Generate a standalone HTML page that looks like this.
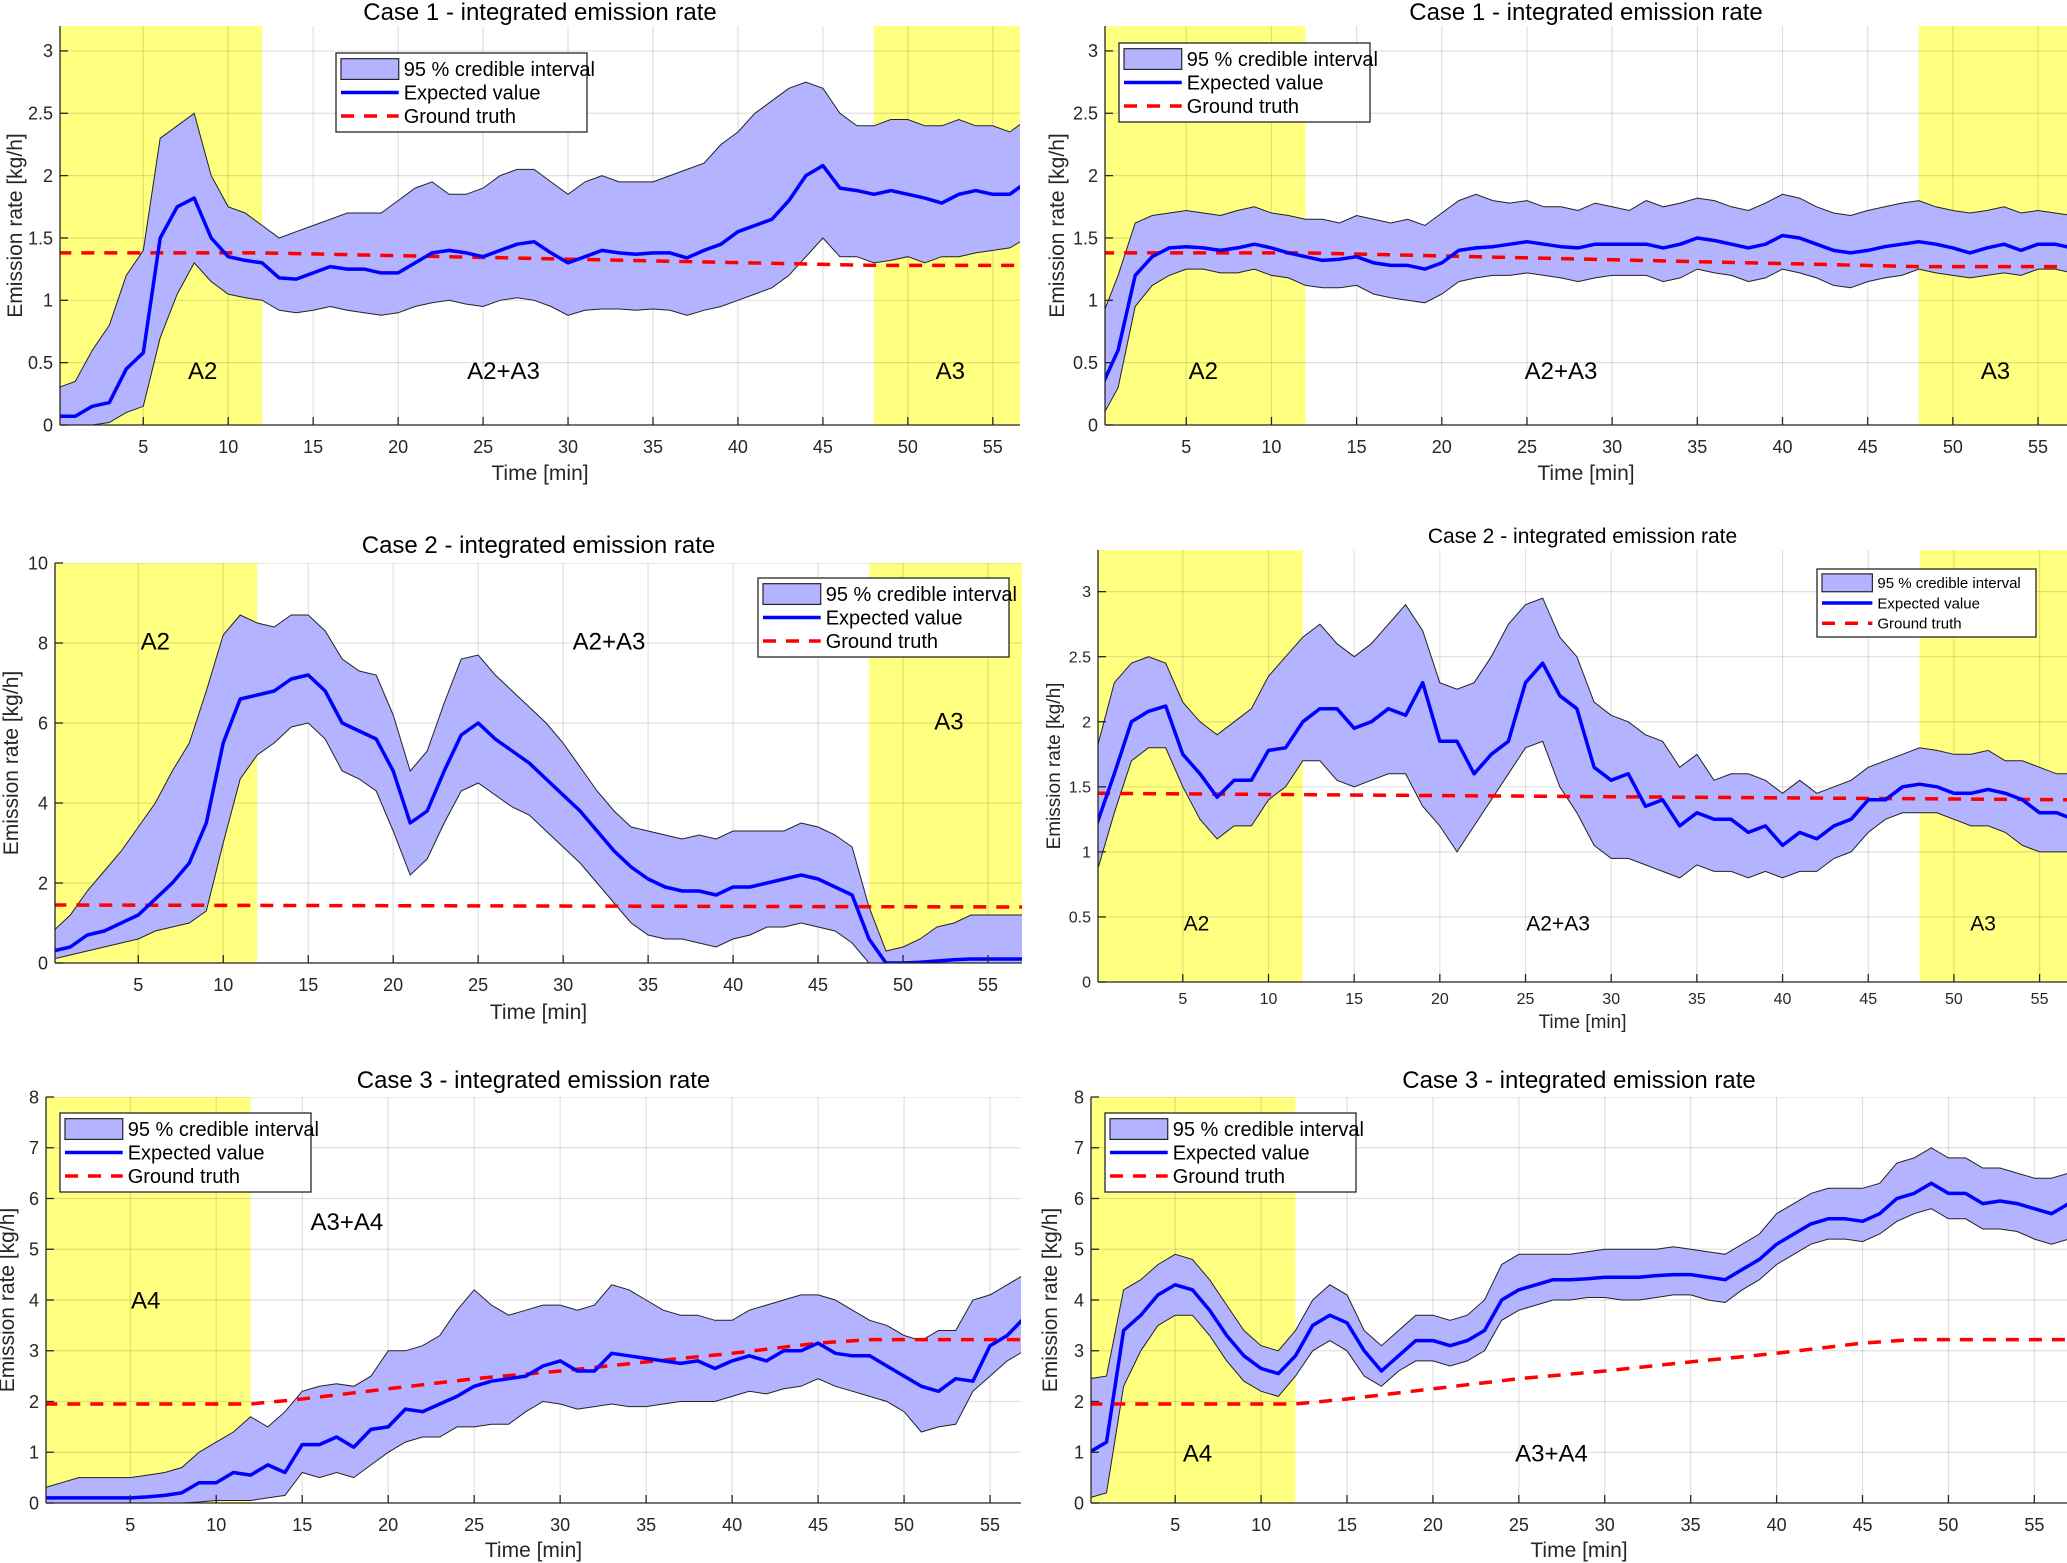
<!DOCTYPE html>
<html><head><meta charset="utf-8">
<style>
html,body{margin:0;padding:0;background:#fff;}
svg{display:block;font-family:"Liberation Sans",Arial,sans-serif;}
</style></head>
<body>
<svg id="fig" width="2067" height="1563" viewBox="0 0 2067 1563" xmlns="http://www.w3.org/2000/svg"></svg>
<script>
// ---------- shared categories ----------
const minutes = [0,1,2,3,4,5,6,7,8,9,10,11,12,13,14,15,16,17,18,19,20,21,22,23,24,25,26,27,28,29,30,31,32,33,34,35,36,37,38,39,40,41,42,43,44,45,46,47,48,49,50,51,52,53,54,55,56,57];
const xTicks = [5,10,15,20,25,30,35,40,45,50,55];

// ---------- Case 1 (left) ----------
const c1aMean = [0.07,0.07,0.15,0.18,0.45,0.58,1.5,1.75,1.82,1.5,1.35,1.32,1.3,1.18,1.17,1.22,1.27,1.25,1.25,1.22,1.22,1.3,1.38,1.4,1.38,1.35,1.4,1.45,1.47,1.38,1.3,1.35,1.4,1.38,1.37,1.38,1.38,1.34,1.4,1.45,1.55,1.6,1.65,1.8,2.0,2.08,1.9,1.88,1.85,1.88,1.85,1.82,1.78,1.85,1.88,1.85,1.85,1.95];
const c1aUpper = [0.3,0.35,0.6,0.8,1.2,1.4,2.3,2.4,2.5,2.0,1.75,1.7,1.6,1.5,1.55,1.6,1.65,1.7,1.7,1.7,1.8,1.9,1.95,1.85,1.85,1.9,2.0,2.05,2.05,1.95,1.85,1.95,2.0,1.95,1.95,1.95,2.0,2.05,2.1,2.25,2.35,2.5,2.6,2.7,2.75,2.7,2.5,2.4,2.4,2.45,2.45,2.4,2.4,2.45,2.4,2.4,2.35,2.45];
const c1aLower = [0,0,0,0.02,0.1,0.15,0.7,1.05,1.3,1.15,1.05,1.02,1.0,0.92,0.9,0.92,0.95,0.92,0.9,0.88,0.9,0.95,0.98,1.0,0.97,0.95,1.0,1.02,1.0,0.95,0.88,0.92,0.93,0.93,0.92,0.93,0.92,0.88,0.92,0.95,1.0,1.05,1.1,1.2,1.35,1.5,1.35,1.35,1.3,1.32,1.35,1.3,1.35,1.35,1.38,1.4,1.42,1.5];
const c1aTruthT = [0,12,48,57];
const c1aTruthV = [1.38,1.38,1.28,1.28];

// ---------- Case 1 (right) ----------
const c1bMean = [0.3,0.6,1.2,1.35,1.42,1.43,1.42,1.4,1.42,1.45,1.42,1.38,1.35,1.32,1.33,1.35,1.3,1.28,1.28,1.25,1.3,1.4,1.42,1.43,1.45,1.47,1.45,1.43,1.42,1.45,1.45,1.45,1.45,1.42,1.45,1.5,1.48,1.45,1.42,1.45,1.52,1.5,1.45,1.4,1.38,1.4,1.43,1.45,1.47,1.45,1.42,1.38,1.42,1.45,1.4,1.45,1.45,1.42];
const c1bUpper = [0.85,1.2,1.62,1.68,1.7,1.72,1.7,1.68,1.72,1.75,1.7,1.68,1.65,1.65,1.62,1.68,1.65,1.62,1.65,1.6,1.7,1.8,1.85,1.8,1.78,1.8,1.75,1.75,1.72,1.78,1.75,1.72,1.8,1.75,1.78,1.82,1.8,1.75,1.72,1.78,1.85,1.82,1.75,1.7,1.68,1.72,1.75,1.78,1.8,1.75,1.72,1.7,1.72,1.75,1.7,1.72,1.7,1.68];
const c1bLower = [0.05,0.3,0.95,1.12,1.2,1.25,1.25,1.22,1.22,1.25,1.2,1.18,1.12,1.1,1.1,1.12,1.05,1.02,1.0,0.98,1.05,1.15,1.18,1.2,1.2,1.22,1.2,1.18,1.15,1.18,1.2,1.2,1.2,1.15,1.18,1.25,1.22,1.2,1.15,1.18,1.25,1.22,1.18,1.12,1.1,1.15,1.18,1.2,1.25,1.22,1.2,1.18,1.2,1.22,1.2,1.25,1.25,1.22];
const c1bTruthT = [0,12,48,57];
const c1bTruthV = [1.38,1.38,1.27,1.27];

// ---------- Case 2 (left) ----------
const c2aMean = [0.3,0.4,0.7,0.8,1.0,1.2,1.6,2.0,2.5,3.5,5.5,6.6,6.7,6.8,7.1,7.2,6.8,6.0,5.8,5.6,4.8,3.5,3.8,4.8,5.7,6.0,5.6,5.3,5.0,4.6,4.2,3.8,3.3,2.8,2.4,2.1,1.9,1.8,1.8,1.7,1.9,1.9,2.0,2.1,2.2,2.1,1.9,1.7,0.6,0.0,0.0,0.02,0.05,0.08,0.1,0.1,0.1,0.1];
const c2aUpper = [0.8,1.2,1.8,2.3,2.8,3.4,4.0,4.8,5.5,6.8,8.2,8.7,8.5,8.4,8.7,8.7,8.3,7.6,7.3,7.2,6.2,4.8,5.3,6.5,7.6,7.7,7.2,6.8,6.4,6.0,5.5,4.9,4.3,3.8,3.4,3.3,3.2,3.1,3.2,3.1,3.3,3.3,3.3,3.3,3.5,3.4,3.2,2.9,1.4,0.3,0.4,0.6,0.9,1.0,1.2,1.2,1.2,1.2];
const c2aLower = [0.1,0.2,0.3,0.4,0.5,0.6,0.8,0.9,1.0,1.3,3.0,4.6,5.2,5.5,5.9,6.0,5.6,4.8,4.6,4.3,3.3,2.2,2.6,3.5,4.3,4.5,4.2,3.9,3.7,3.3,2.9,2.5,2.0,1.5,1.0,0.7,0.6,0.6,0.5,0.4,0.6,0.7,0.9,0.9,1.0,0.9,0.8,0.5,0,0,0,0,0,0,0,0,0,0];
const c2aTruthT = [0,57];
const c2aTruthV = [1.45,1.4];

// ---------- Case 2 (right) ----------
const c2bMean = [1.22,1.6,2.0,2.08,2.12,1.75,1.6,1.42,1.55,1.55,1.78,1.8,2.0,2.1,2.1,1.95,2.0,2.1,2.05,2.3,1.85,1.85,1.6,1.75,1.85,2.3,2.45,2.2,2.1,1.65,1.55,1.6,1.35,1.4,1.2,1.3,1.25,1.25,1.15,1.2,1.05,1.15,1.1,1.2,1.25,1.4,1.4,1.5,1.52,1.5,1.45,1.45,1.48,1.45,1.4,1.3,1.3,1.25];
const c2bUpper = [1.8,2.3,2.45,2.5,2.45,2.15,2.0,1.9,2.0,2.1,2.35,2.5,2.65,2.75,2.6,2.5,2.6,2.75,2.9,2.7,2.3,2.25,2.3,2.5,2.75,2.9,2.95,2.65,2.5,2.15,2.05,2.0,1.9,1.85,1.65,1.75,1.55,1.6,1.6,1.55,1.45,1.55,1.45,1.5,1.55,1.65,1.7,1.75,1.8,1.78,1.75,1.75,1.78,1.7,1.7,1.65,1.6,1.6];
const c2bLower = [0.85,1.3,1.7,1.8,1.8,1.5,1.25,1.1,1.2,1.2,1.4,1.5,1.7,1.7,1.55,1.5,1.55,1.6,1.6,1.35,1.2,1.0,1.2,1.4,1.6,1.8,1.85,1.5,1.3,1.05,0.95,0.95,0.9,0.85,0.8,0.9,0.85,0.85,0.8,0.85,0.8,0.85,0.85,0.95,1.0,1.15,1.25,1.3,1.3,1.3,1.25,1.2,1.2,1.15,1.05,1.0,1.0,1.0];
const c2bTruthT = [0,57];
const c2bTruthV = [1.45,1.4];

// ---------- Case 3 (left) ----------
const c3aMean = [0.1,0.1,0.1,0.1,0.1,0.1,0.12,0.15,0.2,0.4,0.4,0.6,0.55,0.75,0.6,1.15,1.15,1.3,1.1,1.45,1.5,1.85,1.8,1.95,2.1,2.3,2.4,2.45,2.5,2.7,2.8,2.6,2.6,2.95,2.9,2.85,2.8,2.75,2.8,2.65,2.8,2.9,2.8,3.0,3.0,3.15,2.95,2.9,2.9,2.7,2.5,2.3,2.2,2.45,2.4,3.1,3.3,3.65];
const c3aUpper = [0.3,0.4,0.5,0.5,0.5,0.5,0.55,0.6,0.7,1.0,1.2,1.4,1.7,1.5,1.8,2.2,2.3,2.35,2.3,2.5,3.0,3.0,3.1,3.3,3.8,4.2,3.9,3.7,3.8,3.9,3.9,3.8,3.9,4.3,4.2,4.0,3.8,3.7,3.7,3.6,3.6,3.8,3.9,4.0,4.1,4.1,4.0,3.8,3.6,3.5,3.3,3.2,3.4,3.4,4.0,4.1,4.3,4.5];
const c3aLower = [0,0,0,0,0,0,0,0,0,0.02,0.05,0.05,0.05,0.1,0.15,0.6,0.5,0.6,0.5,0.75,1.0,1.2,1.3,1.3,1.5,1.5,1.55,1.55,1.8,2.0,1.95,1.85,1.9,1.95,1.9,1.9,1.95,2.0,2.0,2.0,2.1,2.2,2.15,2.25,2.3,2.45,2.3,2.2,2.1,2.0,1.8,1.4,1.5,1.55,2.2,2.5,2.8,3.0];
const c3TruthT = [0,12,15,20,25,30,35,40,45,48,57];
const c3TruthV = [1.95,1.95,2.05,2.25,2.45,2.6,2.78,2.95,3.15,3.22,3.22];

// ---------- Case 3 (right) ----------
const c3bMean = [1.0,1.2,3.4,3.7,4.1,4.3,4.2,3.8,3.3,2.9,2.65,2.55,2.9,3.5,3.7,3.55,3.0,2.6,2.9,3.2,3.2,3.1,3.2,3.4,4.0,4.2,4.3,4.4,4.4,4.42,4.45,4.45,4.45,4.48,4.5,4.5,4.45,4.4,4.6,4.8,5.1,5.3,5.5,5.6,5.6,5.55,5.7,6.0,6.1,6.3,6.1,6.1,5.9,5.95,5.9,5.8,5.7,5.9];
const c3bUpper = [2.45,2.5,4.2,4.4,4.7,4.9,4.8,4.4,3.9,3.4,3.1,3.0,3.4,4.0,4.3,4.1,3.4,3.1,3.4,3.7,3.7,3.6,3.7,4.0,4.7,4.9,4.9,4.9,4.9,4.95,5.0,5.0,5.0,5.0,5.05,5.0,4.95,4.9,5.1,5.3,5.7,5.9,6.1,6.2,6.2,6.2,6.3,6.7,6.8,7.0,6.8,6.8,6.6,6.6,6.5,6.4,6.4,6.5];
const c3bLower = [0.1,0.2,2.3,3.0,3.5,3.7,3.7,3.3,2.8,2.4,2.2,2.1,2.5,3.0,3.2,3.0,2.5,2.3,2.6,2.8,2.8,2.7,2.8,3.0,3.6,3.8,3.9,4.0,4.0,4.05,4.05,4.0,4.0,4.05,4.1,4.1,4.0,3.95,4.2,4.4,4.7,4.9,5.1,5.2,5.2,5.15,5.3,5.55,5.7,5.8,5.6,5.6,5.4,5.4,5.35,5.2,5.1,5.2];

const yT1 = [0,0.5,1,1.5,2,2.5,3];
const yT1Labels = ["0","0.5","1","1.5","2","2.5","3"];
const yT2 = [0,2,4,6,8,10];
const yT3 = [0,1,2,3,4,5,6,7,8];

const NS = "http://www.w3.org/2000/svg";
const fig = document.getElementById('fig');
function mk(tag, attrs, parent){
  const e = document.createElementNS(NS, tag);
  for (const k in attrs) e.setAttribute(k, attrs[k]);
  (parent||fig).appendChild(e);
  return e;
}

const panels = [
 {id:'c1a', L:60, R:1020, T:26, B:425, x0:0.1, x1:56.6, y0:0, y1:3.2, yt:yT1, ytl:yT1Labels,
  mean:c1aMean, up:c1aUpper, lo:c1aLower, gtT:c1aTruthT, gtV:c1aTruthV, regions:[[0,12],[48,60]],
  title:'Case 1 - integrated emission rate', titleY:20, fs:18, tfs:24, lfs:20, afs:21,
  tickY:453, xlabY:480, ylabX:22,
  leg:[336,53], labels:[['A2',8.5,0.42],['A2+A3',26.2,0.42],['A3',52.5,0.42]]},
 {id:'c1b', L:1105, R:2067, T:26, B:425, x0:0.23, x1:56.7, y0:0, y1:3.2, yt:yT1, ytl:yT1Labels,
  mean:c1bMean, up:c1bUpper, lo:c1bLower, gtT:c1bTruthT, gtV:c1bTruthV, regions:[[0,12],[48,60]],
  title:'Case 1 - integrated emission rate', titleY:20, fs:18, tfs:24, lfs:20, afs:21,
  tickY:453, xlabY:480, ylabX:1064,
  leg:[1119,43], labels:[['A2',6,0.42],['A2+A3',27,0.42],['A3',52.5,0.42]]},
 {id:'c2a', L:55, R:1022, T:563, B:963, x0:0.1, x1:57, y0:0, y1:10, yt:yT2, ytl:["0","2","4","6","8","10"],
  mean:c2aMean, up:c2aUpper, lo:c2aLower, gtT:c2aTruthT, gtV:c2aTruthV, regions:[[0,12],[48,60]],
  title:'Case 2 - integrated emission rate', titleY:553, fs:18, tfs:24, lfs:20, afs:21,
  tickY:991, xlabY:1019, ylabX:18,
  leg:[758,578], labels:[['A2',6,8],['A2+A3',32.7,8],['A3',52.7,6]]},
 {id:'c2b', L:1098, R:2067, T:550, B:982, x0:0.05, x1:56.6, y0:0, y1:3.32, yt:yT1, ytl:yT1Labels,
  mean:c2bMean, up:c2bUpper, lo:c2bLower, gtT:c2bTruthT, gtV:c2bTruthV, regions:[[0,12],[48,60]],
  title:'Case 2 - integrated emission rate', titleY:543, fs:16, tfs:21, lfs:15, afs:19,
  tickY:1004, xlabY:1028, ylabX:1060,
  leg:[1817,569], legW:219, legH:68, labels:[['A2',5.8,0.44],['A2+A3',26.9,0.44],['A3',51.7,0.44]]},
 {id:'c3a', L:46, R:1021, T:1097, B:1503, x0:0.1, x1:56.8, y0:0, y1:8, yt:yT3, ytl:["0","1","2","3","4","5","6","7","8"],
  mean:c3aMean, up:c3aUpper, lo:c3aLower, gtT:c3TruthT, gtV:c3TruthV, regions:[[0,12]],
  title:'Case 3 - integrated emission rate', titleY:1088, fs:18, tfs:24, lfs:20, afs:21,
  tickY:1531, xlabY:1557, ylabX:14,
  leg:[60,1113], labels:[['A4',5.9,3.96],['A3+A4',17.6,5.5]]},
 {id:'c3b', L:1091, R:2067, T:1097, B:1503, x0:0.1, x1:56.9, y0:0, y1:8, yt:yT3, ytl:["0","1","2","3","4","5","6","7","8"],
  mean:c3bMean, up:c3bUpper, lo:c3bLower, gtT:c3TruthT, gtV:c3TruthV, regions:[[0,12]],
  title:'Case 3 - integrated emission rate', titleY:1088, fs:18, tfs:24, lfs:20, afs:21,
  tickY:1531, xlabY:1557, ylabX:1057,
  leg:[1105,1113], labels:[['A4',6.3,0.94],['A3+A4',26.9,0.94]]}
];

panels.forEach(p => {
  const g = mk('g', {});
  
  
  const sx = v => p.L + (v - p.x0) / (p.x1 - p.x0) * (p.R - p.L);
  const sy = v => p.B - (v - p.y0) / (p.y1 - p.y0) * (p.B - p.T);
  const defs = mk('defs', {}, g);
  const cp = mk('clipPath', {id:'clip-' + p.id}, defs);
  mk('rect', {x:p.L, y:p.T, width:p.R - p.L, height:p.B - p.T}, cp);
  const plot = mk('g', {'clip-path':'url(#clip-' + p.id + ')'}, g);

  p.regions.forEach((r, i) => {
    const a = Math.max(sx(r[0]), p.L), b = Math.min(sx(r[1]), p.R);
    const rc = mk('rect', {x:a, y:p.T, width:b - a, height:p.B - p.T, fill:'#ffff80'}, plot);
    
    
  });
  xTicks.forEach(t => {
    mk('line', {x1:sx(t), x2:sx(t), y1:p.T, y2:p.B, stroke:'#000', 'stroke-opacity':0.12, 'stroke-width':1.2}, plot);
  });
  p.yt.forEach(v => {
    mk('line', {x1:p.L, x2:p.R, y1:sy(v), y2:sy(v), stroke:'#000', 'stroke-opacity':0.12, 'stroke-width':1.2}, plot);
  });
  let d = '';
  minutes.forEach((t, i) => { d += (i ? 'L' : 'M') + sx(t).toFixed(1) + ',' + sy(p.up[i]).toFixed(1); });
  for (let i = minutes.length - 1; i >= 0; i--) d += 'L' + sx(minutes[i]).toFixed(1) + ',' + sy(p.lo[i]).toFixed(1);
  const band = mk('path', {d:d + 'Z', fill:'#b3b3ff', stroke:'none'}, plot);
  
  
  const edge = (arr) => minutes.map((t, i) => (i ? 'L' : 'M') + sx(t).toFixed(1) + ',' + sy(arr[i]).toFixed(1)).join('');
  mk('path', {d:edge(p.up), fill:'none', stroke:'#222', 'stroke-width':1}, plot);
  mk('path', {d:edge(p.lo), fill:'none', stroke:'#222', 'stroke-width':1}, plot);
  const gt = mk('path', {d:p.gtT.map((t, i) => (i ? 'L' : 'M') + sx(t).toFixed(1) + ',' + sy(p.gtV[i]).toFixed(1)).join(''),
    fill:'none', stroke:'#ff0000', 'stroke-width':3.5, 'stroke-dasharray':'13,10'}, plot);
  
  
  const ml = mk('path', {d:edge(p.mean), fill:'none', stroke:'#0000ff', 'stroke-width':3.5, 'stroke-linejoin':'round'}, plot);
  
  

  p.labels.forEach(l => {
    const tx = mk('text', {x:sx(l[1]), y:sy(l[2]), 'font-size':p.tfs, 'text-anchor':'middle', 'dominant-baseline':'middle', fill:'#000'}, g);
    tx.textContent = l[0];
    
    
  });

  mk('line', {x1:p.L, x2:p.L, y1:p.T, y2:p.B, stroke:'#262626', 'stroke-width':1.3}, g);
  mk('line', {x1:p.L, x2:p.R, y1:p.B, y2:p.B, stroke:'#262626', 'stroke-width':1.3}, g);
  xTicks.forEach(t => {
    mk('line', {x1:sx(t), x2:sx(t), y1:p.B, y2:p.B - 8, stroke:'#262626', 'stroke-width':1.3}, g);
    const tl = mk('text', {x:sx(t), y:p.tickY, 'font-size':p.fs, 'text-anchor':'middle', fill:'#262626'}, g);
    tl.textContent = t;
    
    
  });
  p.yt.forEach((v, i) => {
    mk('line', {x1:p.L, x2:p.L + 8, y1:sy(v), y2:sy(v), stroke:'#262626', 'stroke-width':1.3}, g);
    const tl = mk('text', {x:p.L - 7, y:sy(v) + p.fs * 0.35, 'font-size':p.fs, 'text-anchor':'end', fill:'#262626'}, g);
    tl.textContent = p.ytl[i];
    
    
  });
  const cx = (p.L + p.R) / 2;
  const title = mk('text', {x:cx, y:p.titleY, 'font-size':p.tfs, 'text-anchor':'middle', fill:'#000'}, g);
  title.textContent = p.title;
  
  
  const xl = mk('text', {x:cx, y:p.xlabY, 'font-size':p.afs, 'text-anchor':'middle', fill:'#262626'}, g);
  xl.textContent = 'Time [min]';
  
  
  const yc = (p.T + p.B) / 2;
  const yl = mk('text', {x:p.ylabX, y:yc, 'font-size':p.afs, 'text-anchor':'middle', fill:'#262626', transform:'rotate(-90 ' + p.ylabX + ' ' + yc + ')'}, g);
  yl.textContent = 'Emission rate [kg/h]';
  
  

  const lw = p.legW || 251, lh = p.legH || 79;
  const lx = p.leg[0], ly = p.leg[1];
  const lg = mk('g', {}, g);
  
  
  mk('rect', {x:lx, y:ly, width:lw, height:lh, fill:'#fff', stroke:'#262626', 'stroke-width':1.3}, lg);
  const rowH = lh / 3.2;
  const sw = lw * 0.23;
  const r1 = ly + rowH * 0.65, r2 = ly + rowH * 1.6, r3 = ly + rowH * 2.55;
  mk('rect', {x:lx + 5, y:r1 - rowH * 0.42, width:sw, height:rowH * 0.84, fill:'#b3b3ff', stroke:'#262626', 'stroke-width':1.2}, lg);
  mk('line', {x1:lx + 5, x2:lx + 5 + sw, y1:r2, y2:r2, stroke:'#0000ff', 'stroke-width':3.5}, lg);
  mk('line', {x1:lx + 5, x2:lx + 5 + sw, y1:r3, y2:r3, stroke:'#ff0000', 'stroke-width':3.5, 'stroke-dasharray':'13,10'}, lg);
  const names = ['95 % credible interval', 'Expected value', 'Ground truth'];
  const keys = ['legend-entry-interval', 'legend-entry-expected', 'legend-entry-truth'];
  [r1, r2, r3].forEach((ry, i) => {
    const t = mk('text', {x:lx + sw + 10, y:ry + p.lfs * 0.36, 'font-size':p.lfs, fill:'#000'}, lg);
    t.textContent = names[i];
    
    
  });
});
</script>
</body></html>
